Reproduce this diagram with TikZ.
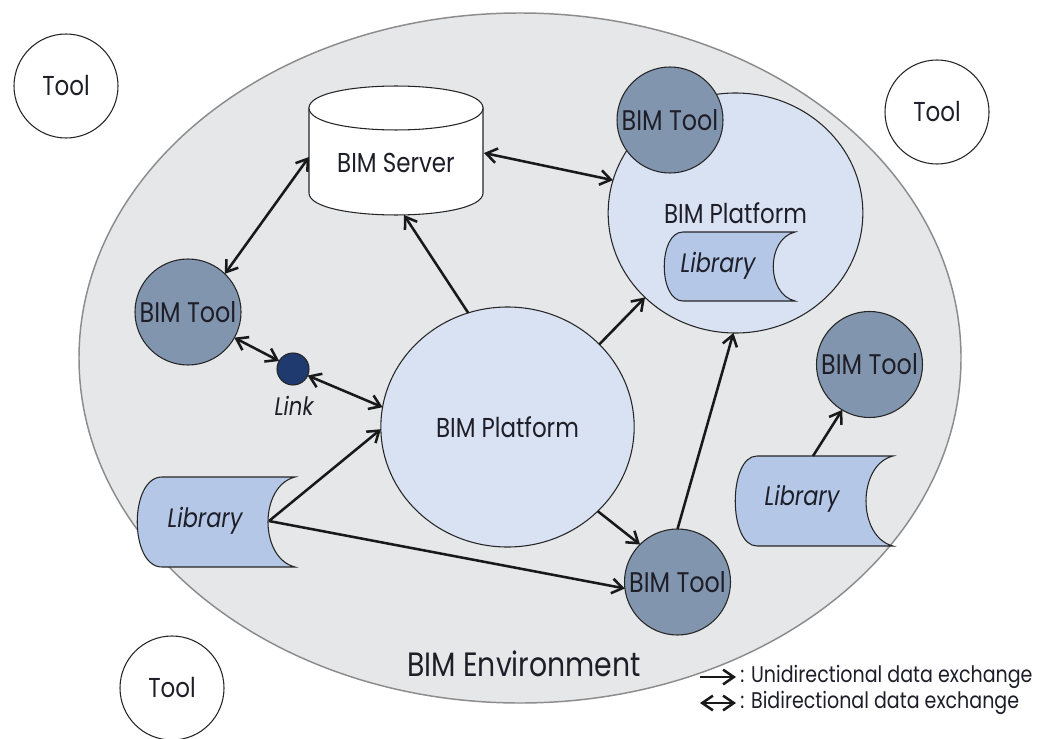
\documentclass[tikz,border=0pt]{standalone}
\usepackage{fontspec}
\setmainfont{Poppins}[FakeStretch=0.84]
\usetikzlibrary{arrows.meta,shapes.geometric}
\definecolor{envfill}{HTML}{E6E7E9}
\definecolor{envline}{HTML}{8C8C8C}
\definecolor{platfill}{HTML}{D9E2F3}
\definecolor{toolfill}{HTML}{8295AE}
\definecolor{libfill}{HTML}{B4C7E7}
\definecolor{linkfill}{HTML}{1E3A6E}
\definecolor{txt}{HTML}{1E1E28}
\newcommand\bimfont{\fontsize{20.5}{24}\selectfont}
\newcommand\toolfont{\fontsize{21.3}{26}\selectfont}
\newcommand\envfont{\fontsize{25.3}{30}\selectfont}
\newcommand\legfont{\fontsize{17}{20}\selectfont}
\newcommand\libfont{\fontsize{20}{23}\selectfont\itshape}
\tikzset{
  >={Straight Barb[length=8pt,width=11pt]},
  uni/.style={->, line width=1.9pt, black!90},
  bi/.style={<->, line width=1.9pt, black!90},
  tool/.style={circle, draw=black!85, line width=0.8pt, fill=toolfill, minimum size=79.5pt, inner sep=0pt, outer sep=0pt, font=\toolfont, text=txt},
  whitetool/.style={circle, draw=black!85, line width=0.8pt, fill=white, minimum size=78pt, inner sep=0pt, outer sep=0pt, font=\bimfont, text=txt},
  plat/.style={ellipse, draw=black!85, line width=0.8pt, fill=platfill, inner sep=0pt, outer sep=0pt, font=\bimfont, text=txt},
  libshape/.style={draw=black!85, line width=0.8pt, fill=libfill},
  libtext/.style={font=\libfont, text=txt, inner sep=0pt},
  linkdot/.style={circle, draw=black!85, line width=0.8pt, fill=linkfill, minimum size=24pt, inner sep=0pt, outer sep=0pt},
}
\begin{document}
\begin{tikzpicture}[x=0.75pt,y=-0.75pt]
\useasboundingbox (0,0) rectangle (1041,738);
\fill[white] (0,0) rectangle (1041,738);

% environment
\node[ellipse, draw=envline, line width=1.1pt, fill=envfill, minimum width=661.5pt, minimum height=517.5pt, inner sep=0pt] (env) at (520,358) {};
\node[font=\envfont, text=txt] (envlabel) at (524,664) {BIM Environment};

% outside tools
\node[whitetool] (toolA) at (66,86) {Tool};
\node[whitetool] (toolB) at (937,112) {Tool};
\node[whitetool] (toolC) at (172,688) {Tool};

% BIM server cylinder
\draw[draw=black!85, line width=0.8pt, fill=white]
  (309,108) -- (309,193) .. controls (309,222.3) and (483,222.3) .. (483,193) -- (483,108) -- cycle;
\draw[draw=black!85, line width=0.8pt, fill=white]
  (309,108) .. controls (309,78.7) and (483,78.7) .. (483,108)
  .. controls (483,137.3) and (309,137.3) .. (309,108) -- cycle;
\node[font=\bimfont, text=txt] (server) at (396,163) {BIM Server};
\coordinate (serverW) at (309,157);
\coordinate (serverE) at (484,153);
\coordinate (serverS) at (404,215);

% platforms
\node[plat, minimum width=191pt, minimum height=180pt] (tplat) at (735.5,213) {BIM Platform};
\node[plat, minimum width=190pt, minimum height=180pt] (cplat) at (507.5,427) {BIM Platform};

% inner library
\draw[libshape] (683,232) -- (795,232) .. controls (766,239) and (766,294) .. (795,301)
  -- (683,301) .. controls (658,301) and (658,232) .. (683,232) -- cycle;
\node[libtext] (libI) at (718,266) {Library};

% BIM tools
\node[tool] (ttool) at (670,120) {BIM Tool};
\node[tool] (ltool) at (188,312) {BIM Tool};
\node[tool] (btool) at (677.5,582) {BIM Tool};
\node[tool] (rtool) at (869.5,364.5) {BIM Tool};

% link
\node[linkdot] (link) at (293,369) {};
\node[font=\fontsize{19}{22}\selectfont\itshape, text=txt] (linklabel) at (294,406) {Link};

% left library
\draw[libshape] (162,477) -- (295,477) .. controls (259,486) and (259,558) .. (295,567)
  -- (162,567) .. controls (129,567) and (129,477) .. (162,477) -- cycle;
\node[libtext] (libL) at (205,521) {Library};
\coordinate (libLout) at (269,521);

% right library
\draw[libshape] (757,456) -- (893,456) .. controls (857,465) and (857,537) .. (893,546)
  -- (757,546) .. controls (728,546) and (728,456) .. (757,456) -- cycle;
\node[libtext] (libR) at (802,499) {Library};
\coordinate (libRtop) at (813,456);

% connectors
\draw[bi] (serverW) -- (ltool.46.5);
\draw[bi] (serverE) -- (tplat.165);
\draw[uni] (cplat.109.4) -- (serverS);
\draw[uni] (cplat.42.2) -- (tplat.223.5);
\draw[bi] (ltool.-29) -- (link.150);
\draw[bi] (link.-24) -- (cplat.171);
\draw[uni] (libLout) -- (cplat.181.4);
\draw[uni] (libLout) -- (btool.187);
\draw[uni] (cplat.-43.5) -- (btool.135);
\draw[uni] (btool.90) -- (tplat.269);
\draw[uni] (libRtop) -- (rtool.239);

% legend
\coordinate (lu1) at (700,677);
\coordinate (lu2) at (736,677);
\coordinate (lb1) at (700,703);
\coordinate (lb2) at (736,703);
\draw[uni] (lu1) -- (lu2);
\draw[bi] (lb1) -- (lb2);
\node[anchor=west, font=\legfont, text=txt, inner sep=0pt] (legU) at (740,677) {: Unidirectional data exchange};
\node[anchor=west, font=\legfont, text=txt, inner sep=0pt] (legB) at (740,703) {: Bidirectional data exchange};
\end{tikzpicture}
\end{document}
